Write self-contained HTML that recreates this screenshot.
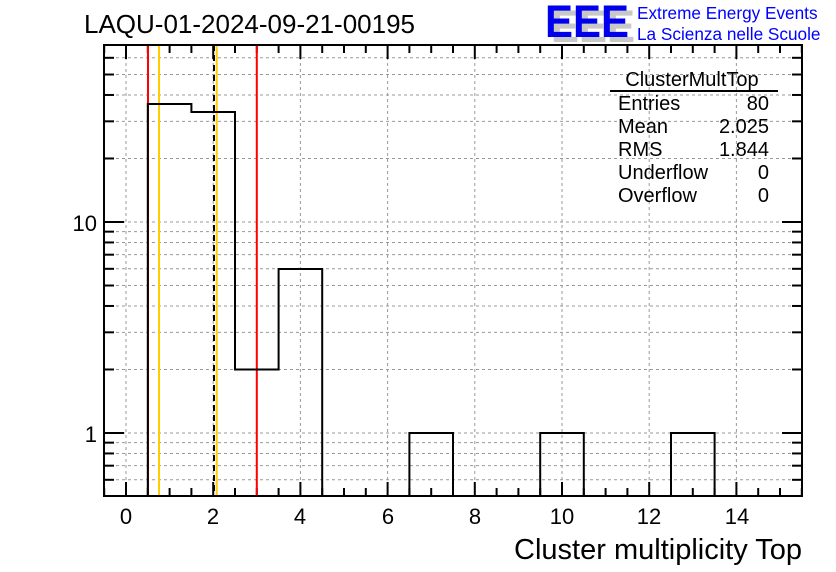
<!DOCTYPE html>
<html><head><meta charset="utf-8"><style>
html,body{margin:0;padding:0;background:#fff;}
svg{display:block;font-family:"Liberation Sans",Arial,sans-serif;}
</style></head><body>
<svg id="s" width="836" height="572" viewBox="0 0 836 572" xmlns="http://www.w3.org/2000/svg">
<rect width="836" height="572" fill="#fff"/>
<g id="grid" stroke="#999" stroke-width="1" stroke-dasharray="3,3"></g>
<g id="ticks" stroke="#000" stroke-width="2"></g>
<line x1="148" y1="45" x2="148" y2="496" stroke="#f00" stroke-width="2"/>
<line x1="256.8" y1="45" x2="256.8" y2="496" stroke="#f00" stroke-width="2"/>
<line x1="159" y1="45" x2="159" y2="496" stroke="#fc0" stroke-width="2"/>
<line x1="216.7" y1="45" x2="216.7" y2="496" stroke="#fc0" stroke-width="2"/>
<line x1="214" y1="45" x2="214" y2="496" stroke="#000" stroke-width="2" stroke-dasharray="6,4"/>
<path d="M147.8 496 V104 H191.4 V112 H235 V369.5 H278.6 V269 H322.2 V496" fill="none" stroke="#000" stroke-width="2"/>
<path d="M409.4 496 V433 H453 V496 M540.2 496 V433 H583.8 V496 M671 496 V433 H714.6 V496" fill="none" stroke="#000" stroke-width="2"/>
<rect x="104" y="45" width="698" height="451" fill="none" stroke="#000" stroke-width="2"/>
<g font-size="22" fill="#000" text-anchor="middle">
<text x="126" y="524">0</text><text x="213" y="524">2</text><text x="300" y="524">4</text><text x="388" y="524">6</text>
<text x="475" y="524">8</text><text x="562" y="524">10</text><text x="649" y="524">12</text><text x="737" y="524">14</text>
</g>
<text x="97" y="231" font-size="22" text-anchor="end">10</text>
<text x="97" y="442" font-size="22" text-anchor="end">1</text>
<text x="802" y="559" font-size="29" text-anchor="end">Cluster multiplicity Top</text>
<text x="84" y="33" font-size="26">LAQU-01-2024-09-21-00195</text>
<g font-size="45" font-weight="bold">
<text x="551" y="42" fill="#c8c8c8" textLength="84" lengthAdjust="spacingAndGlyphs">EEE</text>
<text x="545" y="37" fill="#0000ee" textLength="84" lengthAdjust="spacingAndGlyphs">EEE</text>
</g>
<text x="637" y="19" font-size="17.2" fill="#00f">Extreme Energy Events</text>
<text x="637" y="40" font-size="17.2" fill="#00f">La Scienza nelle Scuole</text>
<text x="692" y="86" font-size="20" text-anchor="middle">ClusterMultTop</text>
<line x1="610" y1="91" x2="778" y2="91" stroke="#000" stroke-width="2"/>
<g font-size="20">
<text x="618" y="110">Entries</text><text x="769" y="110" text-anchor="end">80</text>
<text x="618" y="133">Mean</text><text x="769" y="133" text-anchor="end">2.025</text>
<text x="618" y="156">RMS</text><text x="769" y="156" text-anchor="end">1.844</text>
<text x="618" y="179">Underflow</text><text x="769" y="179" text-anchor="end">0</text>
<text x="618" y="202">Overflow</text><text x="769" y="202" text-anchor="end">0</text>
</g>
</svg>
<script>
var NS="http://www.w3.org/2000/svg";
function L(g,x1,y1,x2,y2){var l=document.createElementNS(NS,"line");l.setAttribute("x1",x1);l.setAttribute("y1",y1);l.setAttribute("x2",x2);l.setAttribute("y2",y2);document.getElementById(g).appendChild(l);}
function Y(v){return 433-211*Math.log10(v);}
var vals=[0.6,0.7,0.8,0.9,1,2,3,4,5,6,7,8,9,10,20,30,40,50,60];
vals.forEach(function(v){var y=Y(v);L("grid",104,y,802,y);var len=(v==1||v==10)?20:10;L("ticks",104,y,104+len,y);L("ticks",802,y,802-len,y);});
for(var i=0;i<=32;i++){var v=-0.5+i*0.5;var x=126+43.6*v;var maj=(Math.abs(v%2)<1e-6);var len=maj?14:8;
 if(maj)L("grid",x,45,x,496);L("ticks",x,496,x,496-len);L("ticks",x,45,x,45+len);}
</script>
</body></html>
